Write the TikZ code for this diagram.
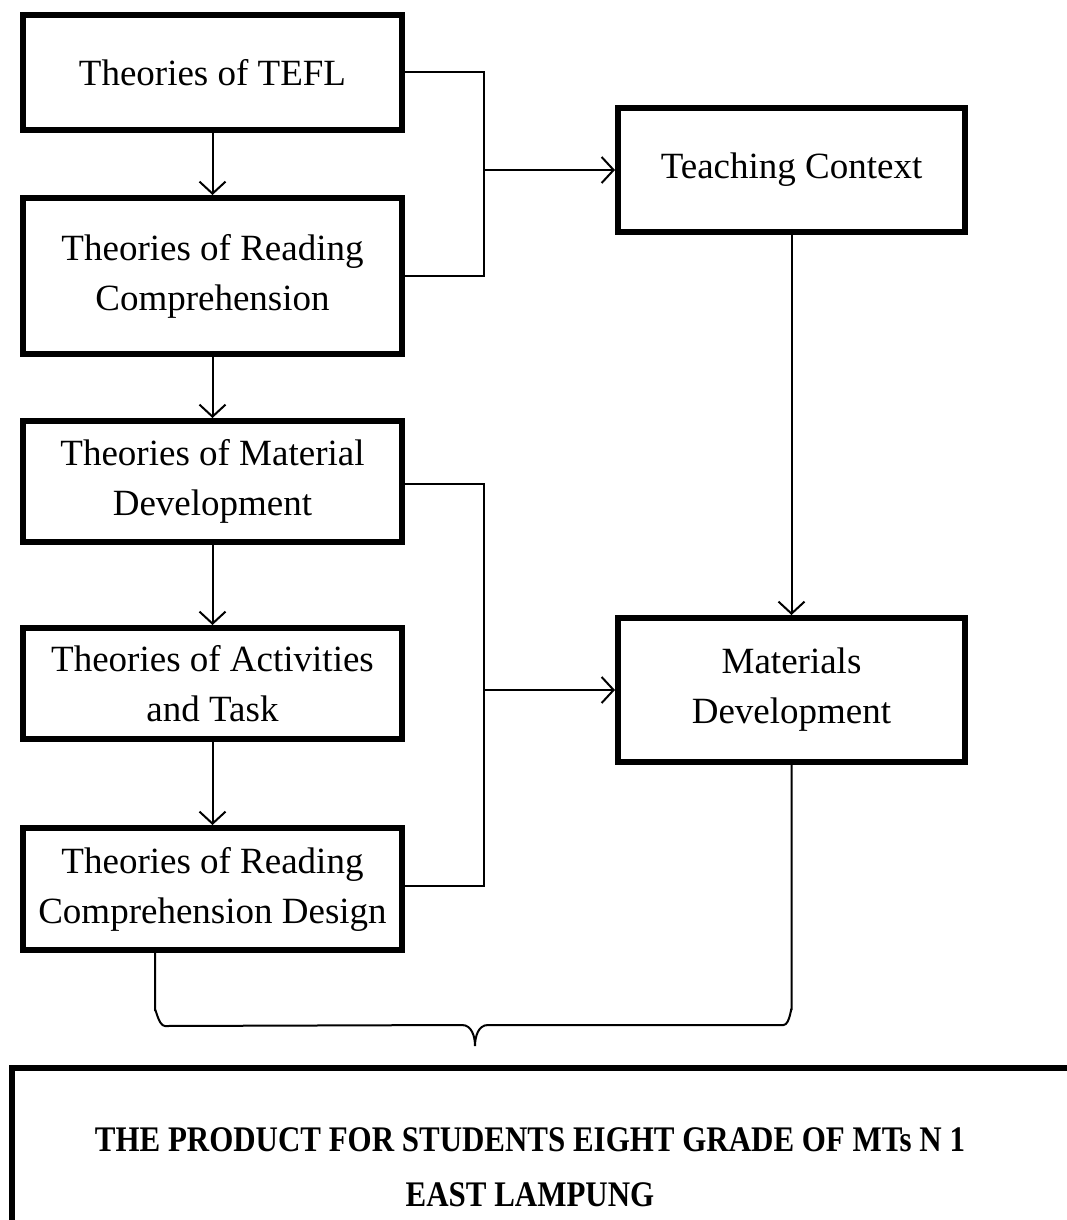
\documentclass[tikz,border=0pt]{standalone}
\usepackage{fontspec}
\setmainfont{Liberation Serif}
\newfontfamily\productfont[FakeStretch=0.86]{Liberation Serif}
\usetikzlibrary{arrows.meta}

\tikzset{
  theory/.style={draw,line width=6pt,minimum width=379pt,align=center,
    font=\fontsize{37}{50}\selectfont},
  link/.style={line width=2pt},
  flow/.style={line width=2pt,-{Straight Barb[length=12pt,width=26pt]}}
}

\begin{document}
\begin{tikzpicture}[x=1pt,y=-1pt]
\clip (0,0) rectangle (1067,1220);
% Left column of theories
\node[theory,minimum height=115pt] (tefl) at (212.5,72.5) {Theories of TEFL};
\node[theory,minimum height=156pt] (reading) at (212.5,276) {Theories of Reading\\Comprehension};
\node[theory,minimum height=121pt] (material) at (212.5,481.5) {Theories of Material\\Development};
\node[theory,minimum height=111pt] (activity) at (212.5,683.5) {Theories of Activities\\and Task};
\node[theory,minimum height=122pt] (design) at (212.5,889) {Theories of Reading\\Comprehension Design};
% Right column
\node[theory,minimum width=347pt,minimum height=124pt] (context) at (791.5,170) {Teaching Context};
\node[theory,minimum width=347pt,minimum height=144pt] (develop) at (791.5,690) {Materials\\Development};
% Arrows down the left column
\draw[flow] (tefl) -- (reading);
\draw[flow] (reading) -- (material);
\draw[flow] (material) -- (activity);
\draw[flow] (activity) -- (design);
% First bracket joins TEFL and reading, then points to context
\draw[link] (tefl.east) -- ++(79,0) coordinate (topjoin) |- (reading.east);
\draw[flow] (topjoin |- context.west) -- (context.west);
% Second bracket joins material and design, then points to development
\draw[link] ([yshift=-2pt]material.east) -- ++(79,0) coordinate (lowjoin) |- ([yshift=3pt]design.east);
\draw[flow] (lowjoin |- develop.west) -- (develop.west);
% Context feeds development
\draw[flow] (context.south) -- (develop.north);
% Brace gathering both columns into the product
\coordinate (tip) at (475,1046);
\draw[link] ([xshift=-57.5pt]design.south) -- ++(0,58) to[out=90,in=180] ++(10,15)
  -- ([xshift=-13pt]tip |- 0,1025) to[out=0,in=90] (tip)
  to[out=90,in=180] ([xshift=13pt]tip |- 0,1025)
  -- ([xshift=-8pt]develop.south |- 0,1025) to[out=0,in=90] ++(8,-15) -- (develop.south);
% Product box runs past the page edge
\draw[line width=6pt] (1120,1068) -| (12,1260);
\node[font=\productfont\bfseries\fontsize{36}{55}\selectfont,align=center] (product) at (530,1167)
  {THE PRODUCT FOR STUDENTS EIGHT GRADE OF MTs N 1\\EAST LAMPUNG};
\end{tikzpicture}
\end{document}
